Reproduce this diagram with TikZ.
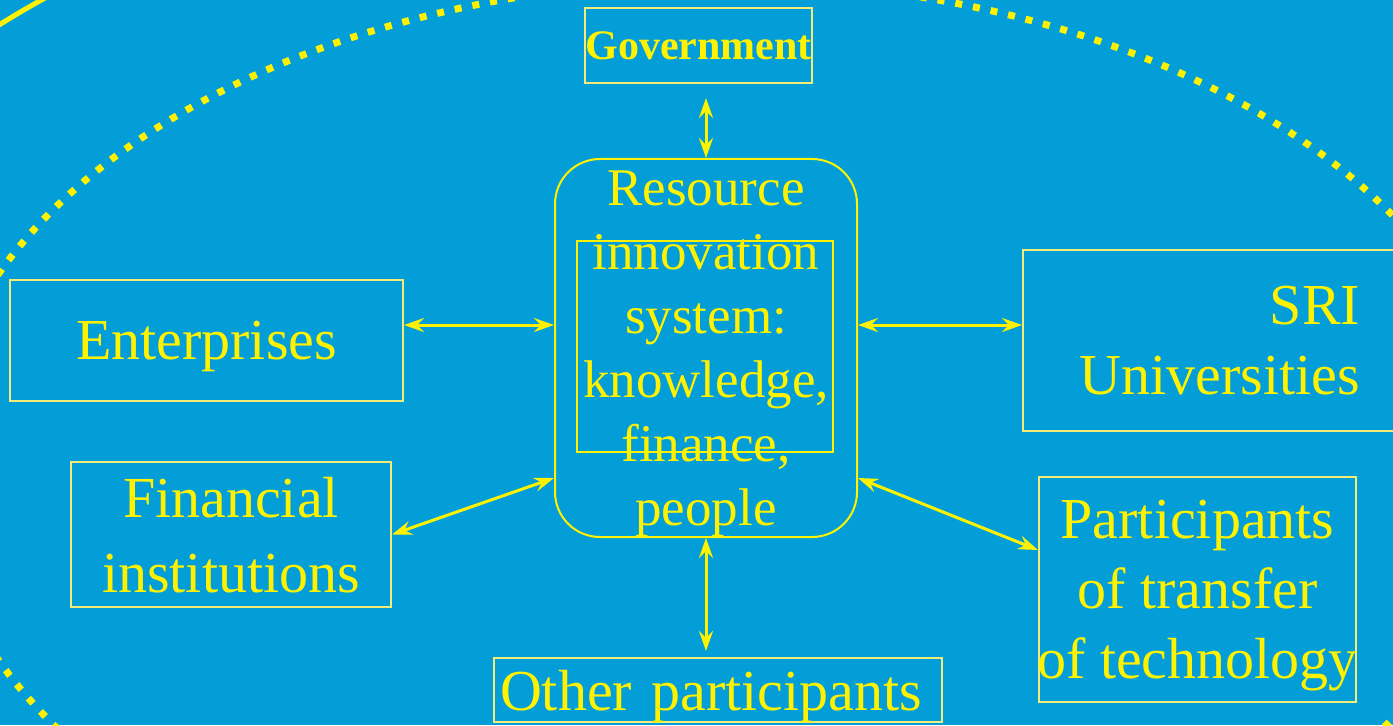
\documentclass[tikz,border=0pt]{standalone}
\usepackage{fontspec}
\setmainfont{Liberation Serif}
\usetikzlibrary{arrows.meta,positioning}
\definecolor{bgblue}{RGB}{3,158,216}
\definecolor{boxedge}{RGB}{245,235,120}

\begin{document}
\begin{tikzpicture}[x=1bp,y=-1bp,
		box/.style={draw=boxedge,line width=2bp,text=yellow,inner sep=0pt,text depth=0pt,align=center,font=\fontsize{58bp}{70bp}\selectfont},
		link/.style={{Stealth[length=20bp,width=14bp,inset=7bp]}-{Stealth[length=20bp,width=14bp,inset=7bp]},yellow,line width=3bp}]
			\useasboundingbox (0,0) rectangle (1393,725);
			\begin{scope}
				\clip (0,0) rectangle (1393,725);
				\fill[bgblue] (0,0) rectangle (1393,725);
				\draw[yellow,line width=7bp,dash pattern=on 7bp off 11bp] (720,467) ellipse [x radius=786,y radius=486];
				\draw[yellow,line width=5bp] (720,467) ellipse [x radius=1015,y radius=628];
			\end{scope}
			\node[box,minimum width=227bp,minimum height=75bp,font=\fontsize{42bp}{50bp}\selectfont\bfseries] (gov) at (698.5,45.5) {Government};
			\node[box,draw=yellow,rounded corners=45bp,minimum width=302bp,minimum height=378bp,font=\fontsize{53bp}{64bp}\selectfont] (res) at (706,348) {Resource\\innovation\\system:\\knowledge,\\finance,\\people};
			\draw[yellow,line width=2bp] (577,241) rectangle (833,452);
			\node[box,minimum width=393bp,minimum height=121bp] (ent) at (206.5,340.5) {Enterprises};
			\node[box,minimum width=320bp,minimum height=145bp,font=\fontsize{58bp}{75bp}\selectfont] (fin) at (231,534.5) {Financial\\institutions};
			\node[box,align=right,minimum width=394bp,minimum height=181bp] (sri) at (1220,340.5) {SRI\\Universities};
			\node[box,inner xsep=-2bp,minimum width=317bp,minimum height=225bp] (par) at (1197.5,589.5) {Participants\\of transfer\\of technology};
			\node[box,align=left,text width=436bp,inner xsep=6bp,minimum height=64bp] (oth) at (718,690) {Other participants};
			\draw[link,shorten <=14bp] (gov.south -| res.north) -- (res.north);
			\draw[link] (ent.east |- 0,325) -- (res.west |- 0,325);
			\draw[link] (fin.east) -- (res.west |- 0,478);
			\draw[link] (res.east |- 0,325) -- (sri.west |- 0,325);
			\draw[link] (res.east |- 0,478) -- (par.west |- 0,550);
			\draw[link,shorten >=6bp] (res.south) -- (oth.north -| res.south);
		\end{tikzpicture}
\end{document}
